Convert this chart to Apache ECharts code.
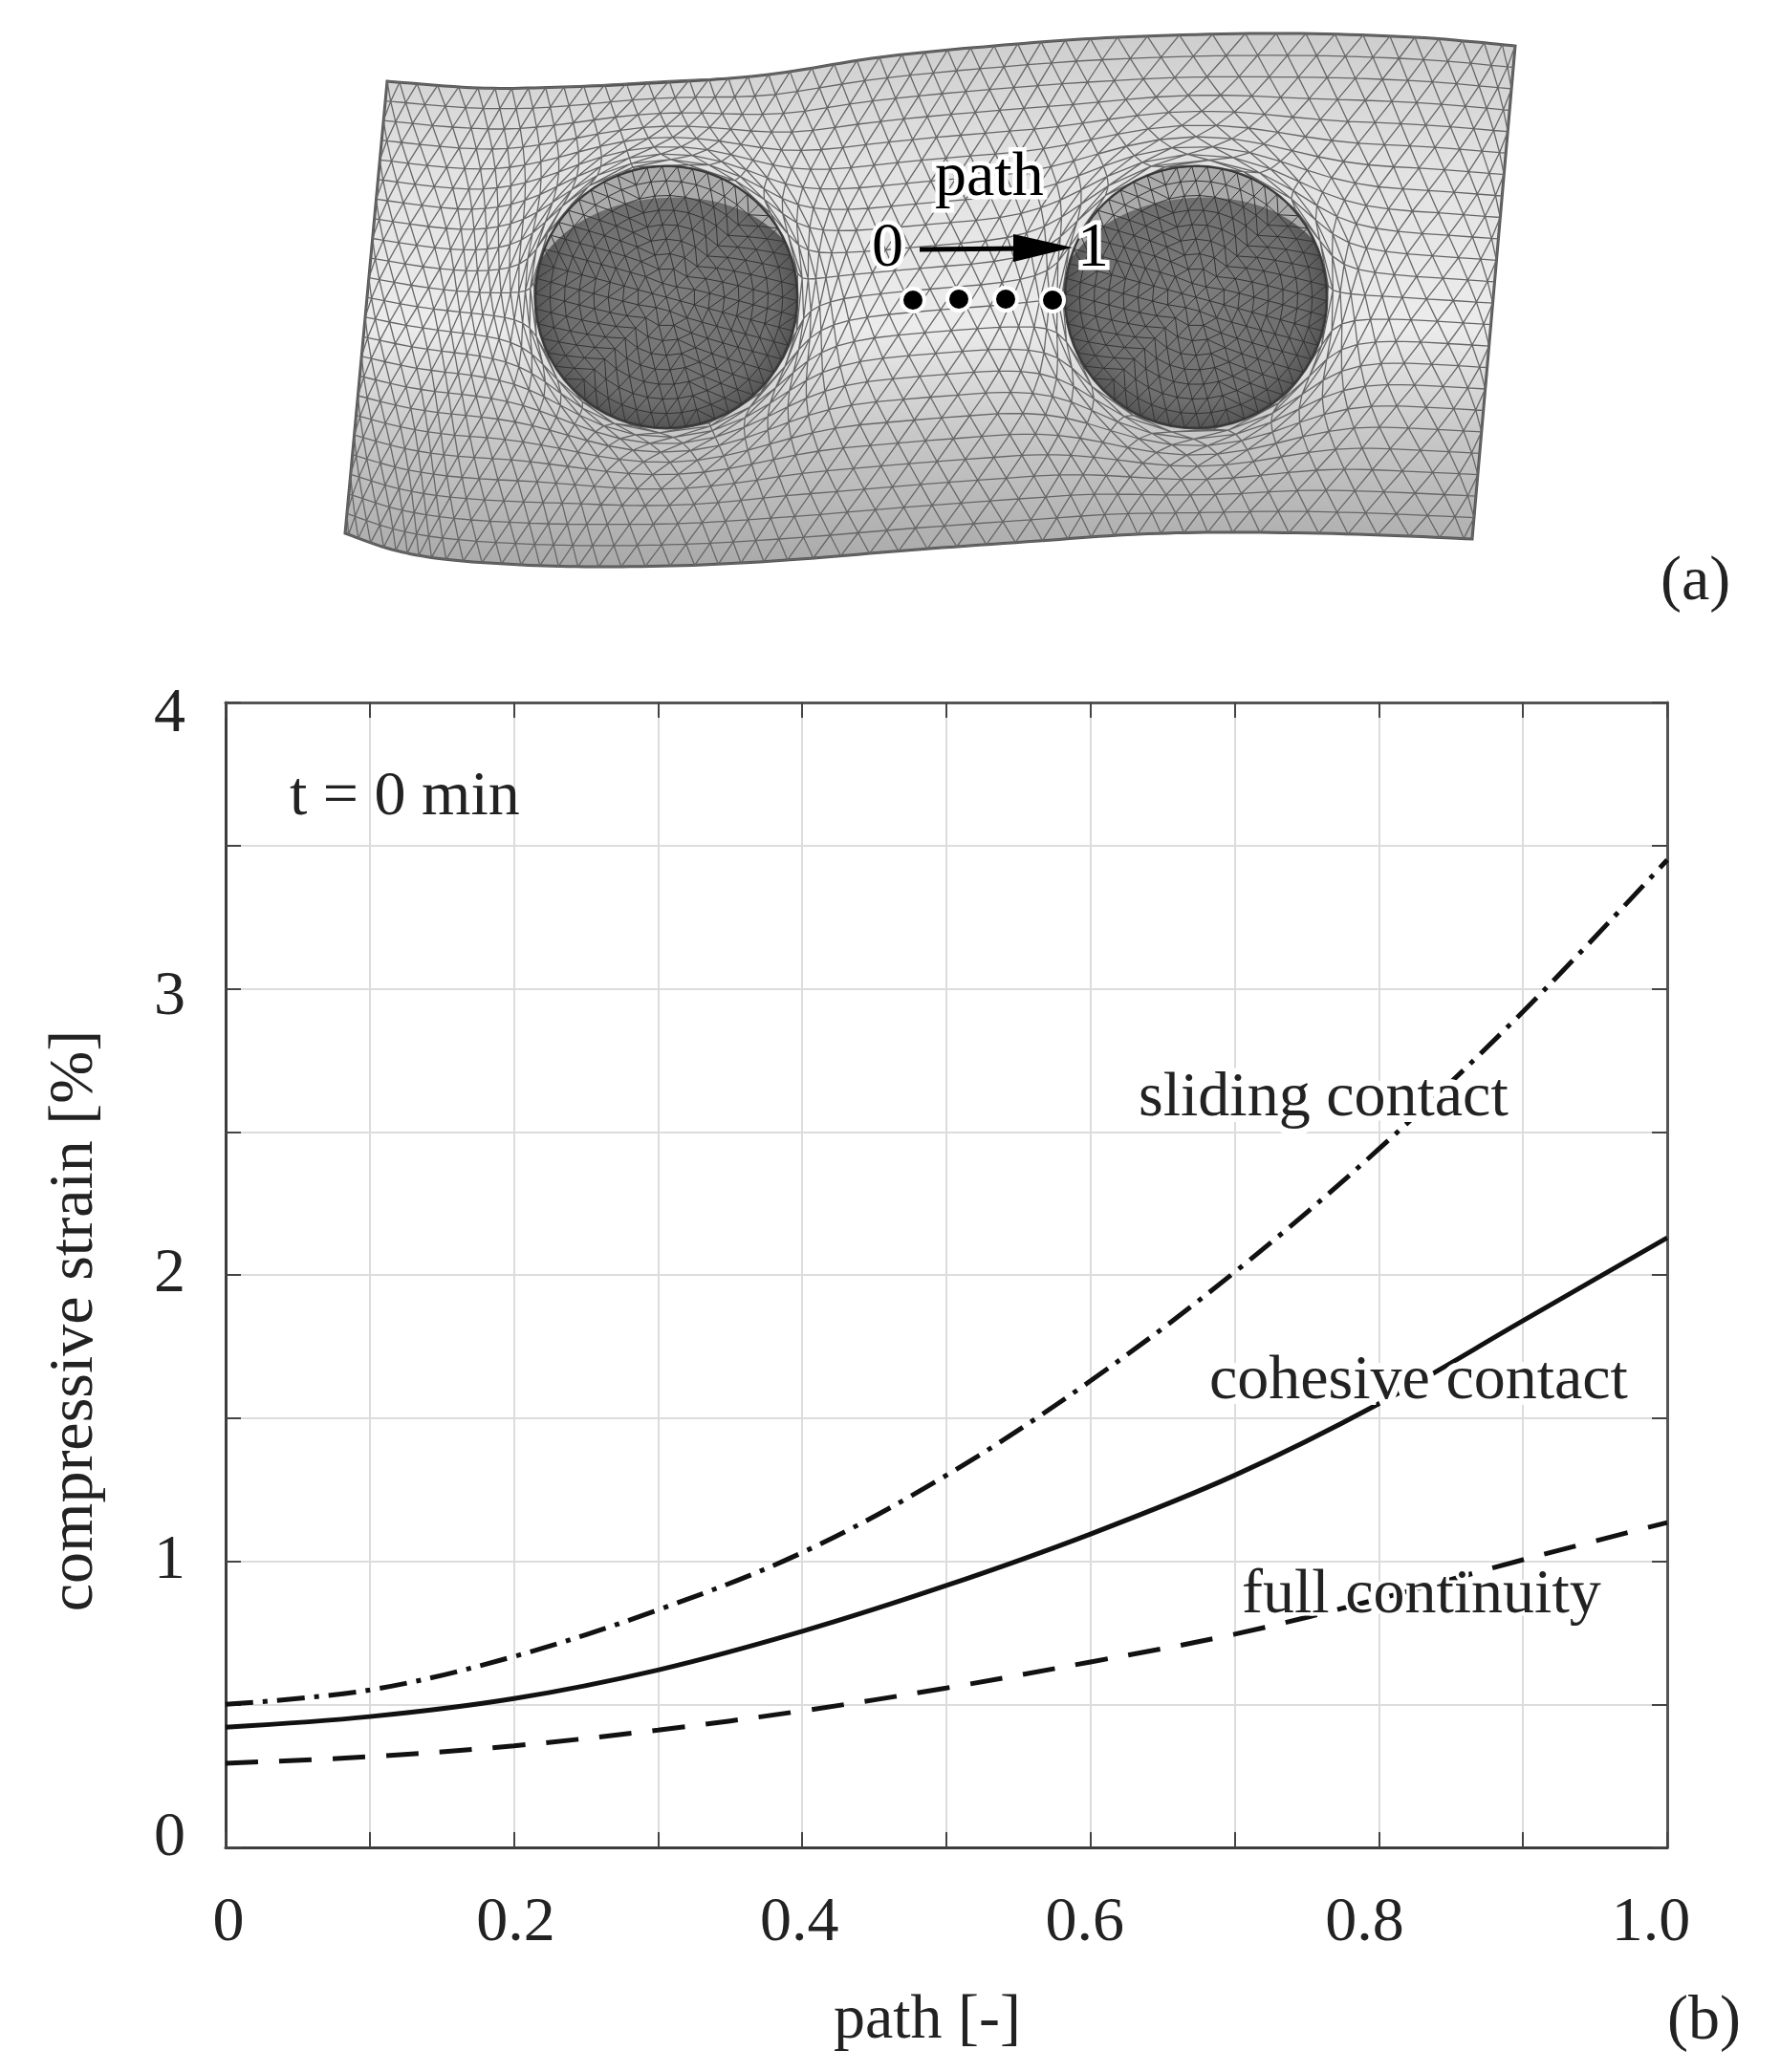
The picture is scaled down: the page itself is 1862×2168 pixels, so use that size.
<!DOCTYPE html>
<html><head><meta charset="utf-8">
<style>html,body{margin:0;padding:0;background:#fff}#c{width:1862px;height:2168px}</style>
<script src="https://cdn.jsdelivr.net/npm/echarts@6/dist/echarts.min.js"></script>
</head><body><div id="c"></div>
<script>
const pathPos = [0,0.1,0.2,0.3,0.4,0.5,0.6,0.7,0.8,0.9,1.0];
const slidingContact  = [0.50,0.55,0.667,0.83,1.03,1.30,1.63,2.01,2.44,2.92,3.45];
const cohesiveContact = [0.42,0.457,0.52,0.62,0.755,0.915,1.095,1.30,1.55,1.84,2.13];
const fullContinuity  = [0.294,0.317,0.355,0.41,0.477,0.557,0.648,0.745,0.868,1.005,1.135];
const xTickLabels = {0:'0',2:'0.2',4:'0.4',6:'0.6',8:'0.8',10:'1.0'};
const yTickLabels = {0:'0',2:'1',4:'2',6:'3',8:'4'};

const FONT='"Liberation Serif","Times New Roman",serif', FS=66, INK='#222';
const L=236,T=735,W=1508,H=1198;

// ---- illustration (a): deformed plate with two inclusions ----
const topEdge=[[405,85],[500,92],[590,91],[700,86],[804,78],[920,60],[1040,48],[1169,39],[1335,35],[1480,39],[1585,48]];
const botEdge=[[361,558],[410,575],[464,585],[545,591],[630,593],[735,591],[837,585],[960,575],[1086,566],[1190,559],[1294,557],[1420,559],[1540,564]];
const centres=[[697,311],[1251,311]], RAD=137, REACH=245;
function edgeAt(p,u){
  const n=p.length-1, t=Math.min(Math.max(u,0),1)*n, i=Math.min(Math.floor(t),n-1), f=t-i;
  const a=p[Math.max(i-1,0)],b=p[i],c=p[i+1],d=p[Math.min(i+2,n)];
  const cr=k=>0.5*((2*b[k])+(-a[k]+c[k])*f+(2*a[k]-5*b[k]+4*c[k]-d[k])*f*f+(-a[k]+3*b[k]-3*c[k]+d[k])*f*f*f);
  return [cr(0),cr(1)];
}
function warp(q){
  for(const c of centres){
    const dx=q[0]-c[0],dy=q[1]-c[1],d=Math.hypot(dx,dy);
    if(d<REACH&&d>1e-6){
      const nd=RAD+(REACH-RAD)*Math.pow(d/REACH,2.2);
      return [c[0]+dx/d*nd,c[1]+dy/d*nd];
    }
  }
  return q;
}
function plateAt(u,v){
  const a=edgeAt(topEdge,u),b=edgeAt(botEdge,u);
  return warp([a[0]+(b[0]-a[0])*v,a[1]+(b[1]-a[1])*v]);
}
const Nu=50,Nv=23; let lattice=[];
for(let r=0;r<=Nv;r++){
  const row=[];
  const odd=r%2;
  for(let i=0;i<=Nu+(odd?1:0);i++){
    const u=odd?Math.max(0,Math.min(1,(i-0.5)/Nu)):i/Nu;
    row.push(plateAt(u,r/Nv));
  }
  lattice.push(row);
}
const fmt=p=>p[0].toFixed(1)+' '+p[1].toFixed(1);
let mesh='';
const seg=(a,b)=>{mesh+='M'+fmt(a)+'L'+fmt(b);};
for(let r=0;r<=Nv;r++){
  const row=lattice[r];
  for(let i=0;i<row.length-1;i++) seg(row[i],row[i+1]);
  if(r<Nv){
    const nx=lattice[r+1];
    if(r%2===0){ for(let i=0;i<row.length;i++){ seg(row[i],nx[i]); seg(row[i],nx[i+1]); } }
    else { for(let i=0;i<row.length;i++){ if(i<nx.length) seg(row[i],nx[i]); if(i>0) seg(row[i],nx[i-1]); } }
  }
}
let outline='';
for(let i=0;i<=120;i++){const q=edgeAt(topEdge,i/120);outline+=(i?'L':'M')+fmt(q);}
for(let i=120;i>=0;i--){const q=edgeAt(botEdge,i/120);outline+='L'+fmt(q);}
outline+='Z';
function discMesh(c){
  const N=9; let d='';
  const P=(k,j)=>{ if(k===0) return c;
    const n=6*k, a=(j%n)/n*Math.PI*2+0.26, r=RAD*k/N;
    return [c[0]+r*Math.cos(a),c[1]+r*Math.sin(a)]; };
  for(let k=1;k<=N;k++){
    const n=6*k;
    for(let j=0;j<n;j++){ d+='M'+fmt(P(k,j))+'L'+fmt(P(k,j+1)); }
    for(let s=0;s<6;s++) for(let i=0;i<k;i++){
      const here=P(k,s*k+i);
      const a=s*(k-1)+i;
      d+='M'+fmt(here)+'L'+fmt(P(k-1,a));
      if(i>0) d+='M'+fmt(here)+'L'+fmt(P(k-1,a-1));
    }
  }
  return d;
}
function crescent(c){
  const a1=Math.PI*1.10,a2=Math.PI*1.85,S=40; let d='';
  const at=(a,r)=>[c[0]+r*Math.cos(a),c[1]+r*Math.sin(a)];
  for(let i=0;i<=S;i++){d+=(i?'L':'M')+fmt(at(a1+(a2-a1)*i/S,RAD-1));}
  for(let i=S;i>=0;i--){const f=i/S;d+='L'+fmt(at(a1+(a2-a1)*f,RAD-1-32*Math.sin(Math.PI*f)));}
  return d+'Z';
}
const Z=200;
const plateParts=[];
plateParts.push({type:'path',shape:{pathData:outline},style:{
  fill:new echarts.graphic.LinearGradient(0,0,0,1,[
    {offset:0,color:'#cdcdcd'},{offset:0.25,color:'#e2e2e2'},{offset:0.55,color:'#ececec'},{offset:0.75,color:'#c8c8c8'},{offset:1,color:'#a9a9a9'}]),
  stroke:'#555',lineWidth:3}});
plateParts.push({type:'path',shape:{pathData:mesh},style:{fill:null,stroke:'#666',lineWidth:1.3}});
centres.forEach(c=>{
  plateParts.push({type:'circle',shape:{cx:c[0],cy:c[1],r:RAD},style:{
    fill:new echarts.graphic.RadialGradient(0.5,0.5,0.5,[{offset:0,color:'#7e7e7e'},{offset:0.8,color:'#6e6e6e'},{offset:1,color:'#545454'}]),stroke:'#444',lineWidth:3}});
  plateParts.push({type:'path',shape:{pathData:crescent(c)},style:{fill:'#ababab'}});
  plateParts.push({type:'path',shape:{pathData:discMesh(c)},style:{fill:null,stroke:'#333',lineWidth:1}});
});
const graphics=[];
const txt=(s,x,y,o={})=>({type:'text',z:Z+10,x,y,style:Object.assign({text:s,fill:INK,font:FS+'px '+FONT,align:'left',verticalAlign:'middle'},o)});
const halo={stroke:'#fff',lineWidth:9,fill:'#000'};
graphics.push(txt('path',978,187,halo));
graphics.push(txt('0',912,261,halo));
graphics.push(txt('1',1127,261,halo));
graphics.push({type:'line',z:Z+9,shape:{x1:962,y1:261,x2:1070,y2:260},style:{stroke:'#000',lineWidth:5}});
graphics.push({type:'polygon',z:Z+9,shape:{points:[[1060,245],[1122,259],[1060,274]]},style:{fill:'#000'}});
[[955,314],[1003,313],[1052,313],[1101,314]].forEach(p=>graphics.push({type:'circle',z:Z+9,shape:{cx:p[0],cy:p[1],r:12},style:{fill:'#000',stroke:'#fff',lineWidth:4}}));
graphics.push(txt('(a)',1737,610));
// annotations on the chart
graphics.push(txt('t = 0 min',303,835));
const mask={stroke:'#fff',lineWidth:14};
graphics.push(txt('sliding contact',1191,1150,mask));
graphics.push(txt('cohesive contact',1265,1446,mask));
graphics.push(txt('full continuity',1299,1670,{stroke:'#fff',lineWidth:7}));
graphics.push(txt('(b)',1744,2116));

// ---- chart (b) ----
const xShift={0:3,2:2,4:-3,6:-6,8:-15,10:-17};
const yShift={8:13,6:9,4:0,2:0,0:-9};
const base={fontFamily:FONT,fontSize:FS,color:INK};
const xRich={},yRich={};
for(const k in xShift){const s=xShift[k];xRich['x'+k]=Object.assign({},base,{padding:[0,s<0?-2*s:0,0,s>0?2*s:0]});}
for(const k in yShift){const s=yShift[k];yRich['y'+k]=Object.assign({},base,{padding:[s>0?2*s:0,0,s<0?-2*s:0,0]});}
const axisLine={show:true,onZero:false,lineStyle:{color:'#3c3c3c',width:3}};
const axisLine2={show:true,onZero:false,lineStyle:{color:'#555',width:3}};
const tick={show:true,inside:true,length:16,lineStyle:{color:'#444',width:2}};
const gridLine={show:true,lineStyle:{color:'#dcdcdc',width:2}};
const lines=(name,data,type,width)=>({name,type:'line',data:pathPos.map((x,i)=>[x,data[i]]),smooth:0.35,showSymbol:false,symbol:'none',clip:true,
  lineStyle:{color:'#111',width,type,cap:'butt'},z:5});
const chart=echarts.init(document.getElementById('c'),null,{renderer:'canvas'});
chart.setOption({
  animation:false,backgroundColor:'#fff',
  grid:{left:L,top:T,width:W,height:H,containLabel:false},
  xAxis:[
   {type:'value',min:0,max:1,interval:0.1,position:'bottom',axisLine,axisTick:tick,splitLine:gridLine,
    name:'path [-]',nameLocation:'middle',nameGap:149,nameTextStyle:Object.assign({},base,{padding:[0,40,0,0]}),
    axisLabel:{show:true,margin:47,rich:xRich,formatter:v=>{const k=Math.round(v*10);return xTickLabels[k]!==undefined?'{x'+k+'|'+xTickLabels[k]+'}':'';}}},
   {type:'value',min:0,max:1,interval:0.1,position:'top',axisLine:axisLine2,axisTick:tick,splitLine:{show:false},axisLabel:{show:false}}
  ],
  yAxis:[
   {type:'value',min:0,max:4,interval:0.5,position:'left',axisLine,axisTick:tick,splitLine:gridLine,
    name:'compressive strain [%]',nameLocation:'middle',nameGap:124,nameRotate:90,nameTextStyle:Object.assign({},base,{padding:[0,96,0,0]}),
    axisLabel:{show:true,margin:42,rich:yRich,formatter:v=>{const k=Math.round(v*2);return yTickLabels[k]!==undefined?'{y'+k+'|'+yTickLabels[k]+'}':'';}}},
   {type:'value',min:0,max:4,interval:0.5,position:'right',axisLine:axisLine2,axisTick:tick,splitLine:{show:false},axisLabel:{show:false}}
  ],
  series:[
    lines('sliding contact',slidingContact,[29,10,5,10],5),
    lines('cohesive contact',cohesiveContact,'solid',5),
    lines('full continuity',fullContinuity,[34,22],5),
    {type:'custom',coordinateSystem:'none',silent:true,z:20,clip:false,data:[[0]],
     renderItem:()=>({type:'group',children:plateParts})}
  ],
  graphic:{elements:graphics}
});
</script></body></html>
